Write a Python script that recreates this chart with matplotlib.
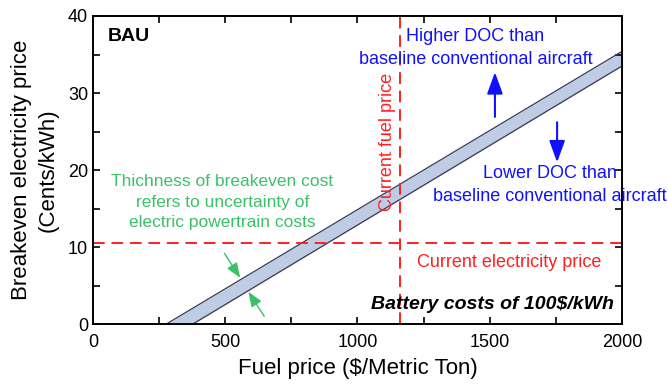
import numpy as np
import matplotlib.pyplot as plt

plt.rcParams['font.family'] = ['Liberation Sans', 'DejaVu Sans']

# breakeven electricity price band (cents/kWh) vs fuel price ($/t)
fuel_price = [0, 2000]
breakeven_high = [-5.7, 35.4]
breakeven_low = [-7.8, 33.5]
current_fuel_price = 1160
current_elec_price = 10.5

fig = plt.figure(figsize=(6.68, 3.9), dpi=100)
ax = fig.add_axes([0.139, 0.169, 0.792, 0.79])

ax.fill_between(fuel_price, breakeven_low, breakeven_high, color='#bfcde4', lw=0)
ax.plot(fuel_price, breakeven_high, color='#3a3a58', lw=0.9)
ax.plot(fuel_price, breakeven_low, color='#3a3a58', lw=0.9)

ax.axvline(current_fuel_price, color='#ff2020', lw=1.4, ls=(0, (6, 3.5)))
ax.axhline(current_elec_price, color='#ff2020', lw=1.4, ls=(0, (6, 3.5)))

ax.set_xlim(0, 2000)
ax.set_ylim(0, 40)
ax.set_xticks([0, 500, 1000, 1500, 2000])
ax.set_yticks([0, 10, 20, 30, 40])
ax.set_xticks(np.arange(250, 2000, 500), minor=True)
ax.set_yticks(np.arange(5, 40, 10), minor=True)
ax.tick_params(which='both', direction='in', top=True, right=True, length=5, width=1.2, labelsize=13)
ax.tick_params(axis='x', pad=7)
for s in ax.spines.values():
    s.set_linewidth(1.4)

ax.set_xlabel('Fuel price ($/Metric Ton)', fontsize=16, labelpad=5)
ax.set_ylabel('Breakeven electricity price\n(Cents/kWh)', fontsize=16, linespacing=1.3, labelpad=7)

ax.text(56, 37.3, 'BAU', fontsize=14, fontweight='bold', va='center', ha='left')
ax.text(1446, 35.8, 'Higher DOC than\nbaseline conventional aircraft', color='#1010ff',
        fontsize=13, ha='center', va='center', linespacing=1.45)
ax.text(1727, 18.1, 'Lower DOC than\nbaseline conventional aircraft', color='#1010ff',
        fontsize=13, ha='center', va='center', linespacing=1.45)
ax.text(490, 15.8, 'Thichness of breakeven cost\nrefers to uncertainty of\nelectric powertrain costs',
        color='#3cc068', fontsize=12.5, ha='center', va='center', linespacing=1.45)
ax.text(1115, 23.6, 'Current fuel price', color='#ff2020', fontsize=13,
        rotation=90, ha='center', va='center')
ax.text(1574, 8.05, 'Current electricity price', color='#ff2020', fontsize=13,
        ha='center', va='center')
ax.text(1970, 2.5, 'Battery costs of 100$/kWh', fontsize=14, fontweight='bold',
        fontstyle='italic', ha='right', va='center')

blue_arrow = dict(arrowstyle='-|>,head_width=0.4,head_length=1.1', color='#1010ff',
                  lw=1.5, mutation_scale=12, shrinkA=0, shrinkB=0)
ax.annotate('', xy=(1520, 32.7), xytext=(1520, 26.9), arrowprops=blue_arrow)
ax.annotate('', xy=(1755, 21.0), xytext=(1755, 26.2), arrowprops=blue_arrow)

green_arrow = dict(arrowstyle='-|>,head_width=0.35,head_length=0.9', color='#3cc068',
                   lw=1.0, mutation_scale=10, shrinkA=0, shrinkB=0)
ax.annotate('', xy=(557, 6.0), xytext=(497, 9.2), arrowprops=green_arrow)
ax.annotate('', xy=(588, 4.2), xytext=(648, 1.0), arrowprops=green_arrow)

fig.savefig('out.png', dpi=100)
